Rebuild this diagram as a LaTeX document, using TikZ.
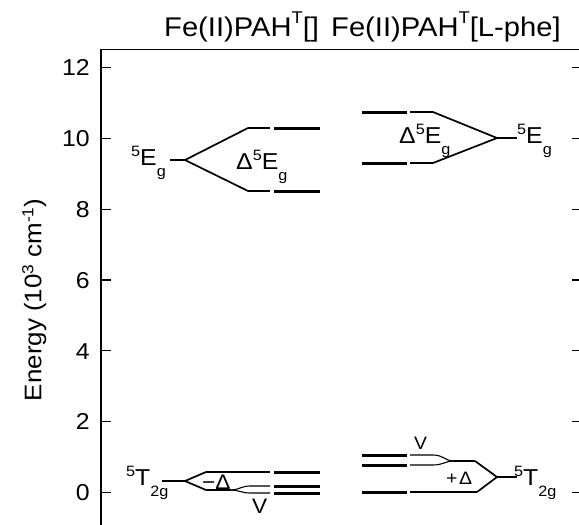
\documentclass[tikz,border=0pt]{standalone}
\usepackage{fontspec}
\setmainfont[FakeStretch=1.08]{Liberation Sans}
\newcommand\lsup[1]{\raisebox{9pt}{\fontsize{15}{15}\selectfont #1}}
\newcommand\lsub[1]{\raisebox{-11pt}{\fontsize{15}{15}\selectfont #1}}
\newcommand\tsup[1]{\raisebox{13pt}{\fontsize{17}{17}\selectfont #1}}
\begin{document}
\begin{tikzpicture}[x=1pt,y=-1pt,
  thin/.style={line width=1.1pt},
  diag/.style={line width=1.7pt},
  lvl/.style={line width=3pt},
  axis/.style={line width=1.3pt},
  tick/.style={line width=1.1pt},
  lab/.style={inner sep=0pt,font=\fontsize{23}{23}\selectfont},
  small/.style={inner sep=0pt,font=\fontsize{21}{21}\selectfont},
  smaller/.style={inner sep=0pt,font=\fontsize{18}{18}\selectfont},
  title/.style={inner sep=0pt,anchor=base west,font=\fontsize{27}{27}\selectfont}]
\fill[white] (0,0) rectangle (579,525);
\useasboundingbox (0,0) rectangle (579,525);
% titles
\node[title] (t1) at (164,36.5) {Fe(II)PAH\tsup{T}[]};
\node[title] (t2) at (331,36.5) {Fe(II)PAH\tsup{T}[L-phe]};
% axes
\coordinate (o) at (101,49.5);
\coordinate (tr) at (579,49.5);
\coordinate (bl) at (101,525);
\draw[axis] (tr) -- (o) -- (bl);
\foreach \k in {0,2,4,6,8,10,12}{
  \pgfmathsetmacro\yy{492.5-35.42*\k}
  \coordinate (lt\k) at (101,\yy);
  \coordinate (lte\k) at (111,\yy);
  \coordinate (rt\k) at (572,\yy);
  \coordinate (rte\k) at (579,\yy);
  \draw[tick] (lt\k) -- (lte\k);
  \draw[tick] (rt\k) -- (rte\k);
  \node[lab,anchor=base east] (tl\k) at (90,\yy+8.2) {\k};
}
\node[inner sep=0pt,font=\fontsize{24}{24}\selectfont,anchor=base,rotate=90] (ylab) at (41.5,300)
  {Energy (10\raisebox{8pt}{\fontsize{16}{16}\selectfont 3} cm\raisebox{8pt}{\fontsize{16}{16}\selectfont -1})};
% ---- left upper 5Eg
\node[lab,anchor=base east] (lE) at (166,165) {\lsup{5}E\lsub{g}};
\coordinate (a0) at (170,160);
\coordinate (a1) at (185,160);
\coordinate (au) at (248,128);
\coordinate (aut) at (270,128);
\coordinate (al) at (248,191);
\coordinate (alt) at (270,191);
\coordinate (Lu1) at (274,128); \coordinate (Lu2) at (320,128);
\coordinate (Ll1) at (274,191); \coordinate (Ll2) at (320,191);
\draw[thin] (a0) -- (a1);
\draw[diag] (a1) -- (au);
\draw[diag] (a1) -- (al);
\draw[thin] (au) -- (aut);
\draw[thin] (al) -- (alt);
\draw[lvl] (Lu1) -- (Lu2);
\draw[lvl] (Ll1) -- (Ll2);
\node[lab,anchor=base west] (dL) at (236,169) {Δ\lsup{5}E\lsub{g}};
% ---- right upper 5Eg
\coordinate (Ru1) at (362,112); \coordinate (Ru2) at (407,112);
\coordinate (Rl1) at (362,163); \coordinate (Rl2) at (407,163);
\coordinate (b1) at (410,112); \coordinate (b2) at (433,112);
\coordinate (c1) at (410,163); \coordinate (c2) at (433,163);
\coordinate (bm) at (497,138); \coordinate (be) at (517,138);
\draw[lvl] (Ru1) -- (Ru2);
\draw[lvl] (Rl1) -- (Rl2);
\draw[thin] (b1) -- (b2);
\draw[thin] (c1) -- (c2);
\draw[diag] (b2) -- (bm);
\draw[diag] (c2) -- (bm);
\draw[thin] (bm) -- (be);
\node[lab,anchor=base west] (rE) at (517,143) {\lsup{5}E\lsub{g}};
\node[lab,anchor=base west] (dR) at (399,143) {Δ\lsup{5}E\lsub{g}};
% ---- left lower 5T2g
\node[lab,anchor=base west] (lT) at (126,485) {\lsup{5}T\lsub{2g}};
\coordinate (d0) at (162,481);
\coordinate (d1) at (185,481);
\coordinate (du) at (206,472); \coordinate (dut) at (270,472);
\coordinate (dl) at (206,490); \coordinate (dls) at (231,490);
\coordinate (dv1) at (250,486); \coordinate (dv1t) at (270,486);
\coordinate (dv2) at (250,493); \coordinate (dv2t) at (270,493);
\coordinate (M1a) at (274,472); \coordinate (M1b) at (320,472);
\coordinate (M2a) at (274,486); \coordinate (M2b) at (320,486);
\coordinate (M3a) at (274,493); \coordinate (M3b) at (320,493);
\draw[thin] (d0) -- (d1);
\draw[diag] (d1) -- (du);
\draw[diag] (d1) -- (dl);
\draw[thin] (du) -- (dut);
\draw[line width=1.5pt] (dl) -- (dls);
\draw[thin] (dls) .. controls (238,490) and (242,486) .. (dv1) -- (dv1t);
\draw[thin] (dls) .. controls (238,490) and (242,493) .. (dv2) -- (dv2t);
\draw[lvl] (M1a) -- (M1b);
\draw[lvl] (M2a) -- (M2b);
\draw[lvl] (M3a) -- (M3b);
\node[small,anchor=base west] (mD) at (202,489) {−Δ};
\node[small,anchor=base west] (lV) at (252,513) {V};
% ---- right lower 5T2g
\coordinate (N1a) at (362,455); \coordinate (N1b) at (407,455);
\coordinate (N2a) at (362,465); \coordinate (N2b) at (407,465);
\coordinate (N3a) at (362,492); \coordinate (N3b) at (407,492);
\coordinate (e1) at (410,455); \coordinate (e1b) at (433,455);
\coordinate (e2) at (410,465); \coordinate (e2b) at (433,465);
\coordinate (em) at (453,461); \coordinate (emt) at (475,461);
\coordinate (f1) at (410,492); \coordinate (f2) at (477,492);
\coordinate (fm) at (497,477); \coordinate (fe) at (517,477);
\draw[lvl] (N1a) -- (N1b);
\draw[lvl] (N2a) -- (N2b);
\draw[lvl] (N3a) -- (N3b);
\draw[thin] (e1) -- (e1b) .. controls (443,455) and (446,461) .. (em);
\draw[thin] (e2) -- (e2b) .. controls (443,465) and (446,461) .. (em);
\draw[thin] (em) -- (emt);
\draw[diag] (emt) -- (fm);
\draw[thin] (f1) -- (f2);
\draw[diag] (f2) -- (fm);
\draw[thin] (fm) -- (fe);
\node[lab,anchor=base west] (rT) at (514,485) {\lsup{5}T\lsub{2g}};
\node[smaller,anchor=base west] (rV) at (414,449) {V};
\node[smaller,anchor=base west] (pD) at (446,484) {+\hspace{1.5pt}Δ};
\end{tikzpicture}
\end{document}
